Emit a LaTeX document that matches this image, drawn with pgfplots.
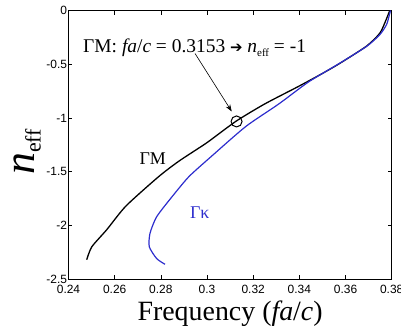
\documentclass[border=0pt]{standalone}
\usepackage{pgfplots}
\pgfplotsset{compat=1.18}
\usetikzlibrary{arrows.meta}
\usepackage{fontspec}
\setmainfont{Liberation Serif}
\setsansfont{Liberation Sans}
\newfontfamily\djv{DejaVu Sans}
\definecolor{myblue}{RGB}{45,45,205}
\begin{document}
\begin{tikzpicture}
\begin{axis}[
  scale only axis, width=323.2bp, height=268.5bp,
  xmin=0.24, xmax=0.38, ymin=-2.5, ymax=0,
  xtick={0.24,0.26,0.28,0.3,0.32,0.34,0.36,0.38},
  ytick={-2.5,-2,-1.5,-1,-0.5,0},
  tick align=inside, xtick pos=both, ytick pos=both,
  major tick length=4bp,
  axis line style={line width=0.8bp},
  tick style={line width=0.6bp, black},
  scaled ticks=false,
  /pgf/number format/assume math mode=true,
  tick label style={font=\sffamily\fontsize{12}{12}\selectfont},
  xticklabel style={/pgf/number format/fixed, /pgf/number format/precision=2, yshift=-2.5bp},
  yticklabel style={/pgf/number format/fixed, xshift=2bp},
  xlabel={Frequency (\textit{fa}/\textit{c})},
  ylabel={{\fontsize{44}{44}\selectfont\textit{n}}{\fontsize{22}{22}\selectfont\raisebox{-6bp}{eff}}},
  xlabel style={font=\fontsize{28}{28}\selectfont, at={(axis description cs:0.5,0)}, anchor=center, yshift=-35bp},
  ylabel style={at={(axis description cs:0,0.5)}, anchor=center, yshift=41bp, xshift=-7bp},
  clip=false,
]
\addplot[black, line width=1.3bp, smooth, tension=0.4] coordinates {
(0.2479,-2.32) (0.2501,-2.20) (0.2566,-2.04) (0.2649,-1.82) (0.2791,-1.546)
(0.288,-1.40) (0.300,-1.23) (0.3125,-1.032) (0.325,-0.87) (0.3397,-0.706)
(0.3505,-0.58) (0.3577,-0.49) (0.3692,-0.33) (0.3749,-0.21) (0.3775,-0.09)
(0.3788,-0.02) (0.3792,0)
};
\addplot[myblue, line width=1.2bp, smooth, tension=0.4] coordinates {
(0.2818,-2.363) (0.2782,-2.31) (0.2750,-2.20) (0.2753,-2.075) (0.2782,-1.92)
(0.285,-1.73) (0.2922,-1.546) (0.3018,-1.36) (0.3168,-1.08) (0.3311,-0.87)
(0.344,-0.665) (0.3577,-0.488) (0.3692,-0.333) (0.3749,-0.224) (0.3778,-0.13)
(0.3790,-0.04) (0.3795,0)
};
\addplot[only marks, mark=o, mark size=5.5bp, mark options={line width=1bp, black}] coordinates {(0.3128,-1.033)};
\draw[-{Stealth[length=7bp,width=5bp]}, line width=0.6bp] (axis cs:0.2948,-0.40) -- (axis cs:0.3107,-0.94);
\node[anchor=base west, inner sep=0pt, font=\fontsize{19.5}{19.5}\selectfont] at (axis cs:0.2463,-0.392)
  {ΓM: \textit{fa}/\textit{c} = 0.3153 {\djv\fontsize{15}{15}\selectfont ➔} \textit{n}{\fontsize{11}{11}\selectfont\raisebox{-4bp}{eff}} = -1};
\node[anchor=base west, inner sep=0pt, font=\fontsize{18}{18}\selectfont] at (axis cs:0.2707,-1.437) {ΓM};
\node[anchor=base west, inner sep=0pt, font=\fontsize{18}{18}\selectfont, text=myblue] at (axis cs:0.2926,-1.934) {Γκ};
\coordinate (ll) at (rel axis cs:0,0);
\end{axis}
\pgfresetboundingbox
\path[use as bounding box] ([shift={(-68.5bp,-54bp)}]ll) rectangle ([shift={(332.5bp,279bp)}]ll);
\end{tikzpicture}
\end{document}
